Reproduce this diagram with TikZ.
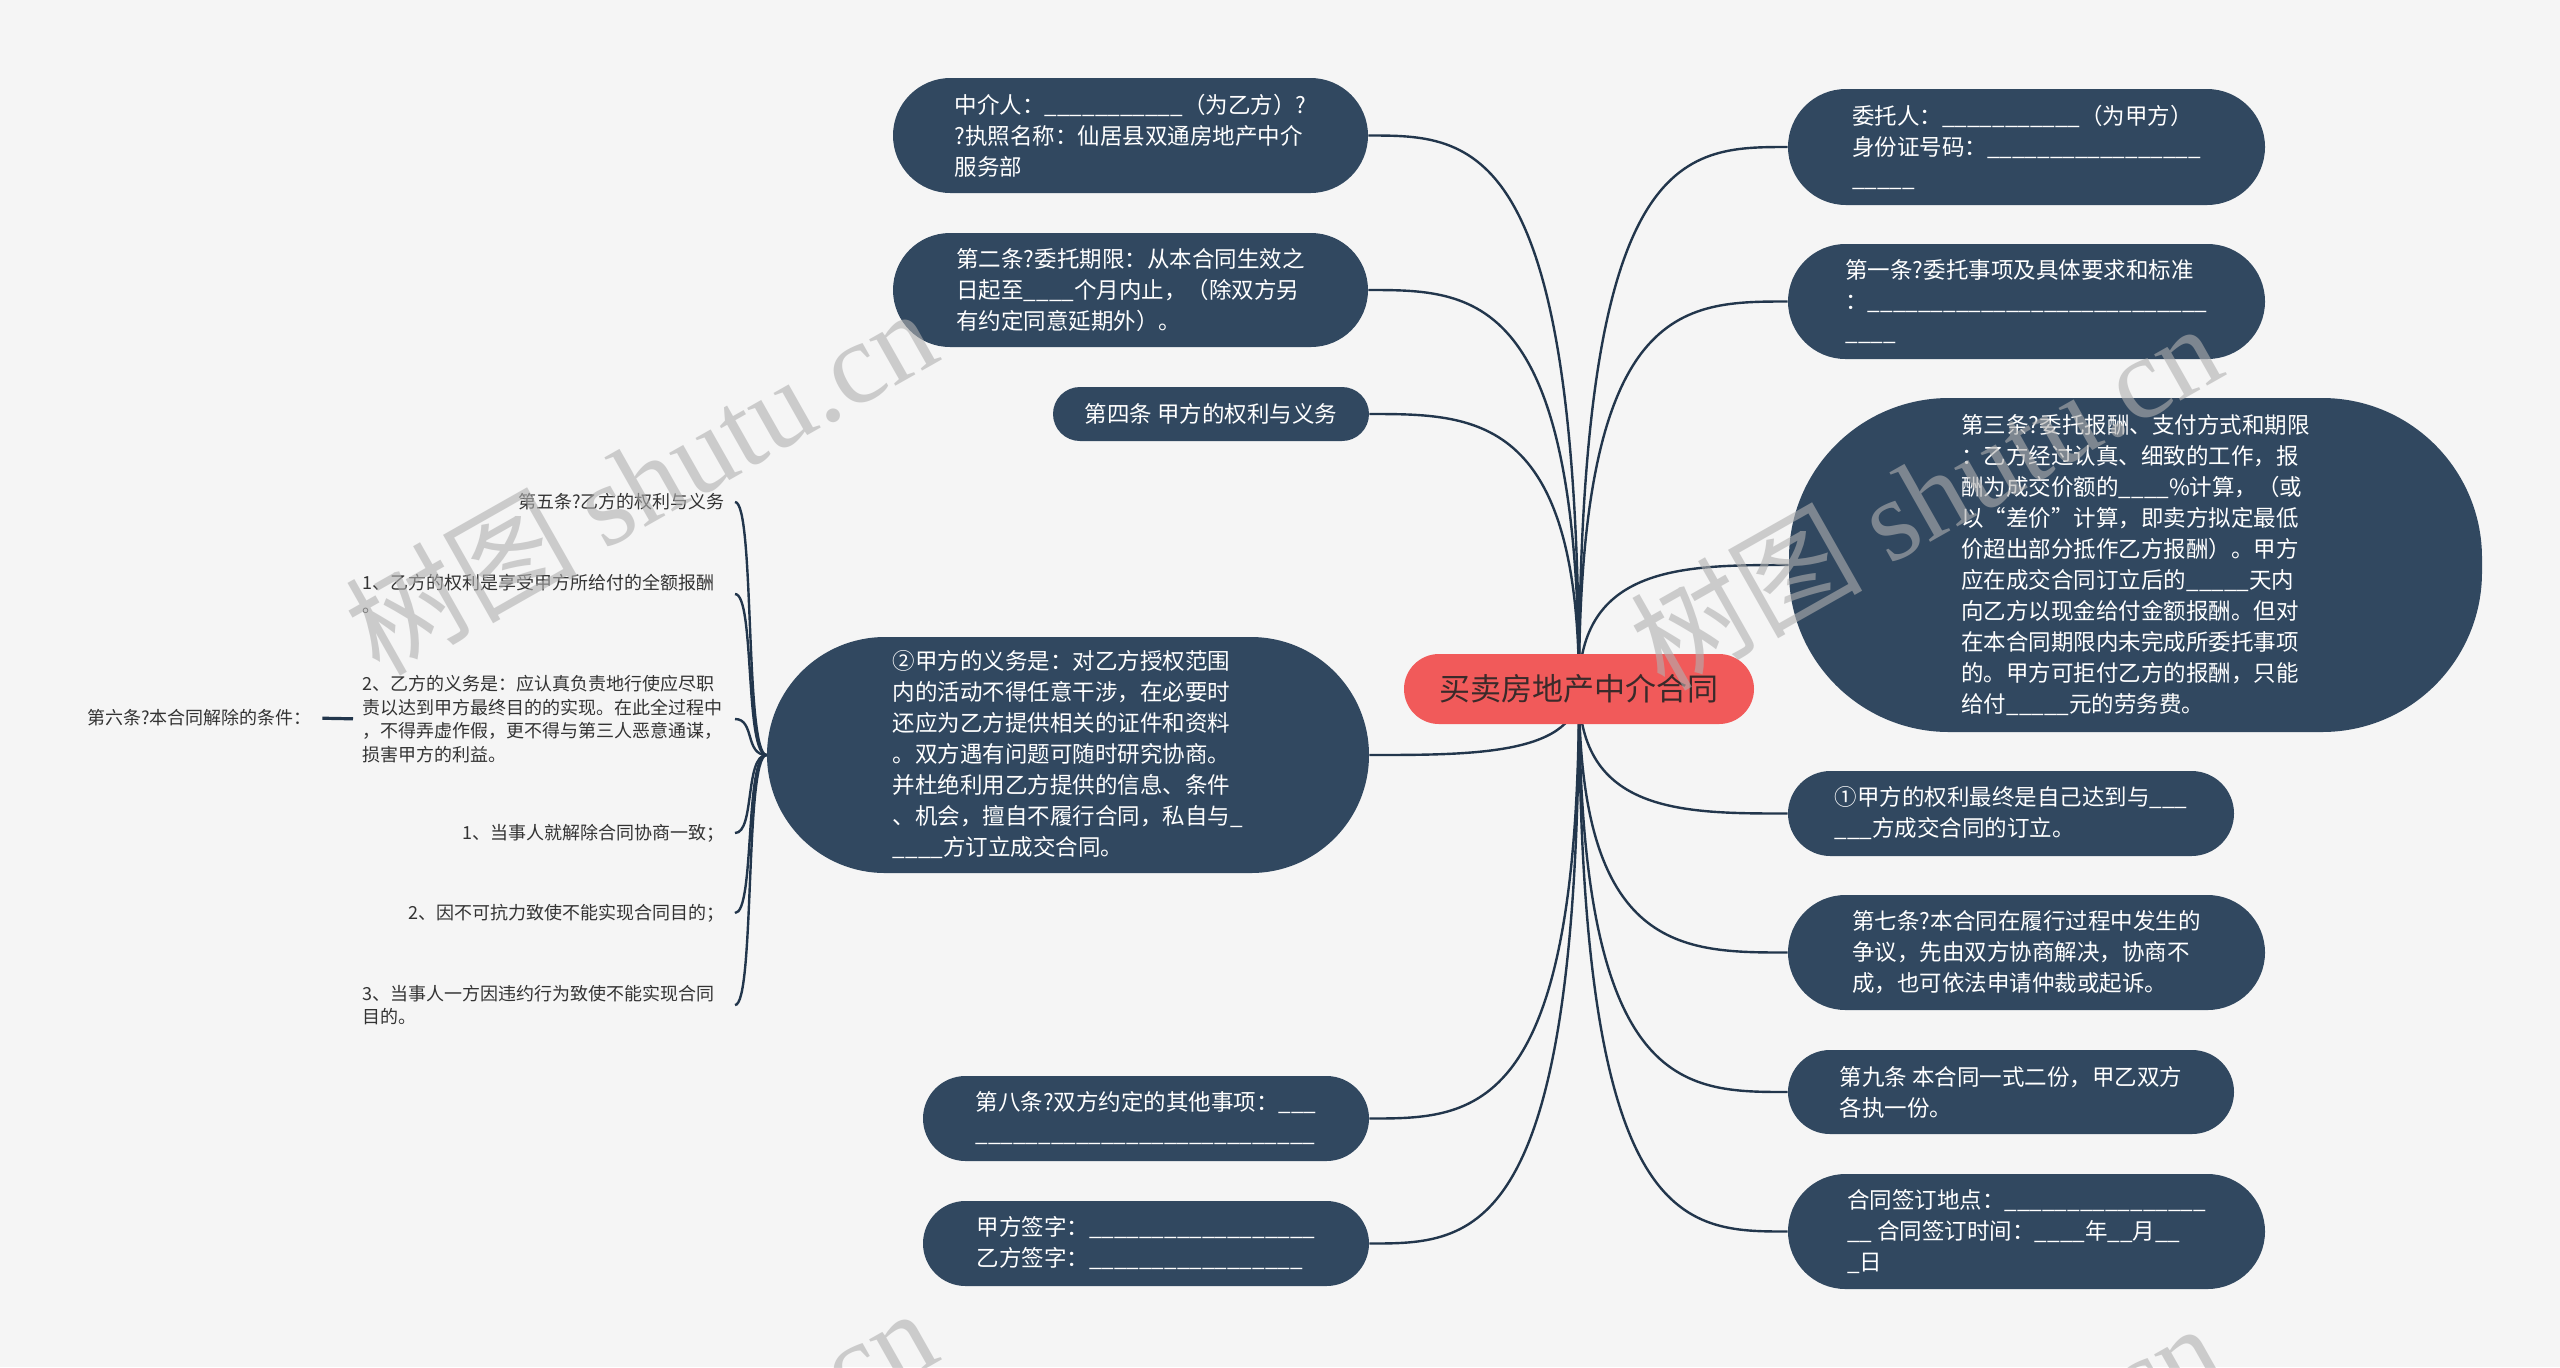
\documentclass[tikz,border=0pt]{standalone}
\usepackage{fontspec}
\newfontfamily\cjk{Noto Sans CJK SC}
\newfontfamily\wmlatin{Liberation Serif}
\usetikzlibrary{calc}
\definecolor{bgc}{HTML}{F5F5F5}
\definecolor{nodeblue}{HTML}{314860}
\definecolor{rootred}{HTML}{F15A5A}
\definecolor{linec}{HTML}{22364C}
\definecolor{smalltext}{HTML}{333333}
\definecolor{roottext}{HTML}{3A2A2A}
\definecolor{wmgray}{HTML}{B0B0B0}
\ExplSyntaxOn
\NewDocumentCommand\blanks{m}{\prg_replicate:nn{#1}{\_}}
\ExplSyntaxOff
\pgfdeclarelayer{back}
\pgfdeclarelayer{conn}
\pgfdeclarelayer{front}
\pgfsetlayers{back,conn,main,front}
\tikzset{
  pill/.style={fill=nodeblue, text=white, font=\cjk\fontsize{11.25pt}{15.5pt}\selectfont, align=left, inner sep=0pt},
  small/.style={text=smalltext, font=\cjk\fontsize{9pt}{11.75pt}\selectfont, align=left, inner sep=0pt},
  link/.style={draw=linec, line width=1.2pt},
  wm/.style={text=wmgray, text opacity=0.6, font=\cjk\fontsize{58pt}{60pt}\selectfont, rotate=29.5, inner sep=0pt},
}
\begin{document}
\begin{tikzpicture}[x=0.5pt,y=-0.5pt]
\useasboundingbox (0,0) rectangle (2560,1367);
\begin{pgfonlayer}{back}
\fill[bgc] (0,0) rectangle (2560,1367);
\end{pgfonlayer}

% root
\node[fill=rootred, text=roottext, font=\cjk\fontsize{15.5pt}{18pt}\selectfont, inner sep=0pt,
  minimum width=175pt, minimum height=35pt, rounded corners=17.5pt] (root) at (1579,689) {买卖房地产中介合同};

% left nodes
\node[pill, minimum width=237.5pt, minimum height=57.5pt, rounded corners=28.75pt] (n1) at (1130.5,135.5)
  {中介人：\blanks{11}（为乙方）?\\?执照名称：仙居县双通房地产中介\\服务部};
\node[pill, minimum width=237.5pt, minimum height=57pt, rounded corners=28.5pt] (n2) at (1130.5,290)
  {第二条?委托期限：从本合同生效之\\日起至\blanks{4}个月内止，（除双方另\\有约定同意延期外）。};
\node[pill, minimum width=158pt, minimum height=27pt, rounded corners=13.5pt] (n3) at (1211,414)
  {第四条 甲方的权利与义务};
\node[pill, minimum width=301pt, minimum height=118pt, rounded corners=59pt] (n4) at (1068,755)
  {②甲方的义务是：对乙方授权范围\\内的活动不得任意干涉，在必要时\\还应为乙方提供相关的证件和资料\\。双方遇有问题可随时研究协商。\\并杜绝利用乙方提供的信息、条件\\、机会，擅自不履行合同，私自与\_\\\blanks{4}方订立成交合同。};
\node[pill, minimum width=223pt, minimum height=42.5pt, rounded corners=21.25pt] (n5) at (1146,1118.5)
  {第八条?双方约定的其他事项：\blanks{3}\\\blanks{27}};
\node[pill, minimum width=223pt, minimum height=42.5pt, rounded corners=21.25pt] (n6) at (1146,1243.5)
  {甲方签字：\blanks{18}\\乙方签字：\blanks{17}};

% right nodes
\node[pill, minimum width=238.5pt, minimum height=58pt, rounded corners=29pt] (m1) at (2026.5,147)
  {委托人：\blanks{11}（为甲方）\\身份证号码：\blanks{17}\\\blanks{5}};
\node[pill, minimum width=238.5pt, minimum height=57.5pt, rounded corners=28.75pt] (m2) at (2026.5,301.5)
  {第一条?委托事项及具体要求和标准\\：\blanks{27}\\\blanks{4}};
\node[pill, minimum width=346.5pt, minimum height=167pt, rounded corners=80pt] (m3) at (2135.5,565)
  {第三条?委托报酬、支付方式和期限\\：乙方经过认真、细致的工作，报\\酬为成交价额的\blanks{4}\%计算，（或\\以“差价”计算，即卖方拟定最低\\价超出部分抵作乙方报酬）。甲方\\应在成交合同订立后的\blanks{5}天内\\向乙方以现金给付金额报酬。但对\\在本合同期限内未完成所委托事项\\的。甲方可拒付乙方的报酬，只能\\给付\blanks{5}元的劳务费。};
\node[pill, minimum width=223pt, minimum height=42.5pt, rounded corners=21.25pt] (m4) at (2011,813.5)
  {①甲方的权利最终是自己达到与\blanks{3}\\\blanks{3}方成交合同的订立。};
\node[pill, minimum width=238.5pt, minimum height=57.5pt, rounded corners=28.75pt] (m5) at (2026.5,952.5)
  {第七条?本合同在履行过程中发生的\\争议，先由双方协商解决，协商不\\成，也可依法申请仲裁或起诉。};
\node[pill, minimum width=223pt, minimum height=42pt, rounded corners=21pt] (m6) at (2011,1092)
  {第九条 本合同一式二份，甲乙双方\\各执一份。};
\node[pill, minimum width=238.5pt, minimum height=57.5pt, rounded corners=28.75pt] (m7) at (2026.5,1231.5)
  {合同签订地点：\blanks{16}\\\blanks{2} 合同签订时间：\blanks{4}年\blanks{2}月\blanks{2}\\\blanks{1}日};

% small texts on the far left
\node[small, anchor=east] (t5) at (725,502) {第五条?乙方的权利与义务};
\node[small, anchor=west] (t1) at (362,594) {1、乙方的权利是享受甲方所给付的全额报酬\\。};
\node[small, anchor=west] (t2) at (362,719) {2、乙方的义务是：应认真负责地行使应尽职\\责以达到甲方最终目的的实现。在此全过程中\\，不得弄虚作假，更不得与第三人恶意通谋，\\损害甲方的利益。};
\node[small, anchor=west] (t6) at (87,718) {第六条?本合同解除的条件：};
\node[small, anchor=east] (t7) at (725,833) {1、当事人就解除合同协商一致；};
\node[small, anchor=east] (t8) at (725,913) {2、因不可抗力致使不能实现合同目的；};
\node[small, anchor=west] (t9) at (362,1005) {3、当事人一方因违约行为致使不能实现合同\\目的。};
\coordinate (sp) at (735,755);

% connectors
\begin{pgfonlayer}{conn}
\foreach \n in {n1,n2,n3,n4,n5,n6}
  \draw[link] (root.center) .. controls (root.center |- \n.east) and +(105,0) .. (\n.east);
\foreach \n in {m1,m2,m3,m4,m5,m6,m7}
  \draw[link] (root.center) .. controls (root.center |- \n.west) and +(-105,0) .. (\n.west);
\foreach \t in {t5,t1,t2,t7,t8,t9}
  \draw[link] (n4.west) .. controls +(-22,0) and +(20,0) .. (\t.east -| sp);
\draw[link, line width=1.6pt, shorten <=5pt, shorten >=4.5pt] (t6.east) -- (t2.west);
\end{pgfonlayer}

% watermarks
\begin{pgfonlayer}{front}
\node[wm] (w1) at (640,480) {树图 {\wmlatin shutu.cn}};
\node[wm] (w2) at (1925,495) {树图 {\wmlatin shutu.cn}};
\node[wm] (w3) at (640,1480) {树图 {\wmlatin shutu.cn}};
\node[wm] (w4) at (1925,1495) {树图 {\wmlatin shutu.cn}};
\end{pgfonlayer}
\end{tikzpicture}
\end{document}
